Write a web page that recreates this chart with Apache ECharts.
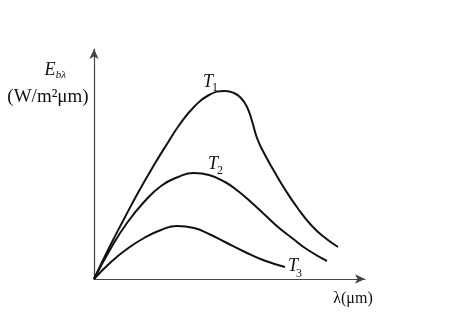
<!DOCTYPE html>
<html><head><meta charset="utf-8">
<script src="https://cdn.jsdelivr.net/npm/echarts@6/dist/echarts.min.js"></script>
<style>html,body{margin:0;padding:0;background:#fff}#c{width:469px;height:321px}</style>
</head><body><div id="c"></div>
<script>
// wavelength (arbitrary units along axis) and emissive power (arbitrary units)
const t1Lambda = [0, 15, 30, 45, 60, 73, 86, 100, 115, 131, 140, 147, 153, 158, 163, 170, 180, 192, 205, 218, 230, 244];
const t1E      = [0, 31, 60, 88, 114, 135, 155, 172, 184, 188, 186, 181, 172, 158, 141, 126, 108, 88, 69, 53, 42, 32];
const t2Lambda = [0, 17, 33, 50, 67, 84, 100, 115, 131, 144, 158, 171, 184, 198, 214, 233];
const t2E      = [0, 31, 56, 77, 93, 102, 106, 104, 97, 88, 76, 64, 52, 41, 29, 18];
const t3Lambda = [0, 17, 33, 50, 67, 83, 100, 115, 131, 151, 169, 191];
const t3E      = [0, 17, 30, 41, 49, 53, 51, 45, 37, 27, 19, 12];
const seriesNames = ['T1', 'T2', 'T3'];

const zip = (xs, ys) => xs.map((x, i) => [x, ys[i]]);
const lineStyle = { color: '#111', width: 2 };
const mk = (name, xs, ys) => ({
  name, type: 'line', smooth: 0.5, showSymbol: false, silent: true,
  data: zip(xs, ys), lineStyle, animation: false
});

const serif = '"Liberation Serif", "DejaVu Serif", serif';
const txt = (text, x, y, size, italic) => ({
  type: 'text', x, y, silent: true,
  style: {
    text, fill: '#111',
    font: (italic ? 'italic ' : '') + size + 'px ' + serif,
    textAlign: 'center', textVerticalAlign: 'middle',
    align: 'center', verticalAlign: 'middle'
  }
});

const chart = echarts.init(document.getElementById('c'), null, { renderer: 'canvas' });
chart.setOption({
  animation: false,
  backgroundColor: '#fff',
  grid: { left: 94, top: 49, width: 271, height: 230, containLabel: false },
  xAxis: {
    type: 'value', min: 0, max: 271,
    axisLine: { show: true, symbol: ['none', 'arrow'], symbolSize: [7, 10], lineStyle: { color: '#444', width: 1.2 } },
    axisTick: { show: false }, axisLabel: { show: false }, splitLine: { show: false }
  },
  yAxis: {
    type: 'value', min: 0, max: 230,
    axisLine: { show: true, symbol: ['none', 'arrow'], symbolSize: [7, 10], lineStyle: { color: '#444', width: 1.2 } },
    axisTick: { show: false }, axisLabel: { show: false }, splitLine: { show: false }
  },
  series: [
    mk(seriesNames[0], t1Lambda, t1E),
    mk(seriesNames[1], t2Lambda, t2E),
    mk(seriesNames[2], t3Lambda, t3E)
  ],
  graphic: [
    txt('T', 208, 82, 18, true), txt('1', 215, 88, 12, false),
    txt('T', 213, 164, 18, true), txt('2', 220, 171, 12, false),
    txt('T', 293, 266, 18, true), txt('3', 299, 274, 12, false),
    txt('E', 50, 70, 18, true), txt('bλ', 61, 75, 11, true),
    txt('(W/m²μm)', 48, 97, 19, false),
    txt('λ(μm)', 353, 299, 16, false)
  ]
});
</script></body></html>
